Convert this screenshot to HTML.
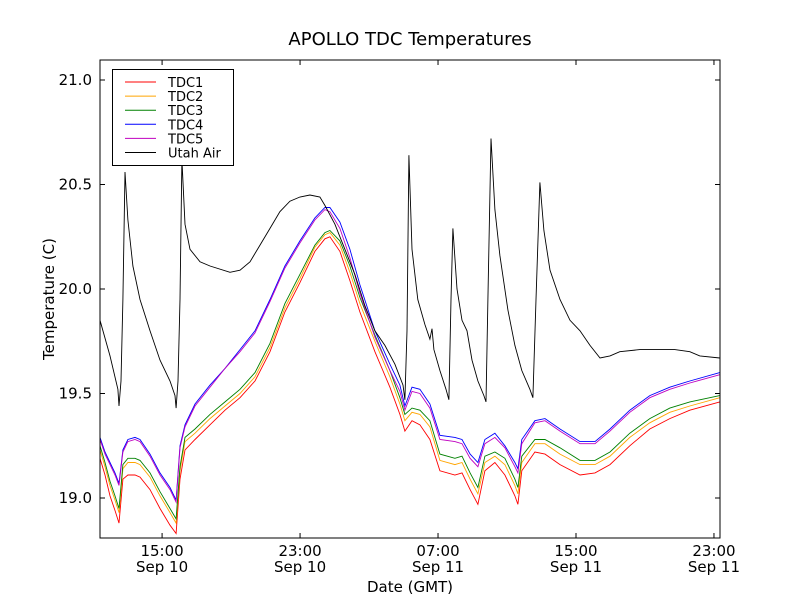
<!DOCTYPE html>
<html><head><meta charset="utf-8"><style>
body{margin:0;background:#fff}
svg text{font-family:"DejaVu Sans","Liberation Sans",sans-serif}
</style></head><body>
<svg id="chart" width="800" height="600" xmlns="http://www.w3.org/2000/svg">
<rect width="800" height="600" fill="#fff"/>
<text x="410" y="45" font-size="18" text-anchor="middle">APOLLO TDC Temperatures</text>
<g id="plot"></g>
<text x="410" y="592" font-size="15" text-anchor="middle">Date (GMT)</text>
<text transform="translate(54,299) rotate(-90)" font-size="15" text-anchor="middle">Temperature (C)</text>
</svg>
<script>
const tdcHours=[11.40,11.69,11.98,12.27,12.50,12.73,13.02,13.43,13.72,14.30,14.88,15.46,15.81,16.04,16.33,16.91,17.78,18.65,19.52,20.39,21.26,22.12,22.99,23.86,24.44,24.73,25.31,25.89,26.47,27.34,28.21,28.79,29.08,29.49,29.95,30.53,31.11,31.98,32.39,32.86,33.31,33.72,34.30,34.88,35.46,35.63,35.86,36.62,37.20,38.07,39.23,40.10,40.97,42.12,43.28,44.44,45.60,47.34];
const tdc1=[19.19,19.11,19.01,18.94,18.88,19.09,19.11,19.11,19.10,19.04,18.95,18.87,18.83,19.09,19.23,19.28,19.35,19.42,19.48,19.56,19.70,19.89,20.03,20.18,20.24,20.25,20.18,20.04,19.89,19.70,19.53,19.40,19.32,19.37,19.35,19.28,19.13,19.11,19.12,19.04,18.97,19.13,19.17,19.11,19.01,18.97,19.13,19.22,19.21,19.16,19.11,19.12,19.16,19.25,19.33,19.38,19.42,19.46];
const tdc2=[19.23,19.15,19.06,18.99,18.93,19.14,19.17,19.17,19.16,19.10,19.01,18.93,18.88,19.13,19.27,19.31,19.38,19.44,19.50,19.58,19.72,19.91,20.05,20.20,20.26,20.27,20.21,20.08,19.93,19.75,19.58,19.45,19.37,19.41,19.40,19.34,19.18,19.16,19.17,19.09,19.02,19.17,19.20,19.16,19.06,19.02,19.17,19.26,19.26,19.21,19.16,19.16,19.20,19.29,19.36,19.41,19.44,19.48];
const tdc3=[19.25,19.17,19.08,19.01,18.95,19.16,19.19,19.19,19.18,19.12,19.03,18.95,18.90,19.15,19.29,19.33,19.40,19.46,19.52,19.60,19.74,19.93,20.07,20.21,20.27,20.28,20.23,20.11,19.96,19.78,19.61,19.48,19.40,19.43,19.42,19.37,19.21,19.19,19.20,19.12,19.05,19.20,19.22,19.19,19.09,19.05,19.20,19.28,19.28,19.24,19.18,19.18,19.22,19.31,19.38,19.43,19.46,19.49];
const tdc4=[19.29,19.22,19.17,19.12,19.07,19.23,19.28,19.29,19.28,19.21,19.12,19.05,18.99,19.25,19.35,19.45,19.54,19.62,19.71,19.80,19.95,20.11,20.23,20.34,20.39,20.39,20.32,20.19,20.02,19.80,19.64,19.54,19.44,19.53,19.52,19.45,19.30,19.29,19.28,19.21,19.17,19.28,19.31,19.25,19.17,19.14,19.28,19.37,19.38,19.33,19.27,19.27,19.33,19.42,19.49,19.53,19.56,19.60];
const tdc5=[19.28,19.21,19.16,19.11,19.06,19.22,19.27,19.28,19.27,19.20,19.11,19.04,18.98,19.24,19.34,19.44,19.53,19.62,19.70,19.79,19.94,20.10,20.22,20.33,20.38,20.37,20.29,20.15,19.98,19.77,19.61,19.51,19.42,19.51,19.50,19.43,19.28,19.27,19.26,19.19,19.15,19.26,19.29,19.24,19.15,19.12,19.26,19.36,19.37,19.32,19.26,19.26,19.32,19.41,19.48,19.52,19.55,19.59];
const airHours=[11.40,11.98,12.44,12.50,12.62,12.73,12.85,13.02,13.31,13.72,14.30,14.88,15.46,15.75,15.81,15.92,16.04,16.15,16.33,16.62,17.20,17.78,18.94,19.52,20.10,20.68,21.26,21.83,22.41,22.99,23.57,24.15,24.44,25.02,25.60,26.18,26.76,27.34,27.92,28.50,28.97,29.08,29.20,29.31,29.49,29.83,30.24,30.53,30.65,30.76,31.11,31.46,31.63,31.75,31.86,32.10,32.39,32.68,32.97,33.31,33.66,33.78,33.89,34.07,34.30,34.59,35.05,35.46,35.86,36.33,36.50,36.68,36.91,37.14,37.49,38.07,38.65,39.23,39.81,40.39,40.97,41.54,42.70,43.86,44.73,45.60,46.18,47.34];
const airTemp=[19.85,19.68,19.52,19.44,19.56,19.95,20.56,20.33,20.11,19.95,19.80,19.66,19.56,19.49,19.43,19.56,19.95,20.62,20.31,20.19,20.13,20.11,20.08,20.09,20.13,20.21,20.29,20.37,20.42,20.44,20.45,20.44,20.40,20.31,20.19,20.07,19.92,19.80,19.73,19.64,19.54,19.47,19.80,20.64,20.19,19.95,19.83,19.76,19.81,19.71,19.61,19.52,19.47,19.95,20.29,20.00,19.85,19.80,19.66,19.56,19.49,19.46,19.95,20.72,20.38,20.16,19.90,19.73,19.61,19.52,19.48,19.95,20.51,20.28,20.09,19.95,19.85,19.80,19.73,19.67,19.68,19.70,19.71,19.71,19.71,19.70,19.68,19.67];
const seriesNames=["TDC1","TDC2","TDC3","TDC4","TDC5","Utah Air"];
const yTicks=[19.0,19.5,20.0,20.5,21.0];
const xTicks=[15,23,31,39,47];
const xTickTime=["15:00","23:00","07:00","15:00","23:00"];
const xTickDate=["Sep 10","Sep 10","Sep 11","Sep 11","Sep 11"];

const L=100,R=720,T=60,B=538, X0=11.4, X1=47.35;
const sx=h=>L+(h-X0)/(X1-X0)*(R-L);
const sy=v=>80+(21-v)*209;
const NS="http://www.w3.org/2000/svg";
const plot=document.getElementById('plot');
function mk(tag,attrs,parent){const e=document.createElementNS(NS,tag);for(const k in attrs)e.setAttribute(k,attrs[k]);(parent||plot).appendChild(e);return e;}
const clip=mk('clipPath',{id:'cp'});mk('rect',{x:L,y:T,width:R-L,height:B-T},clip);
const colors=["#ff0000","#ffa500","#008000","#0000ff","#bf00bf","#000000"];
const datas=[[tdcHours,tdc1],[tdcHours,tdc2],[tdcHours,tdc3],[tdcHours,tdc4],[tdcHours,tdc5],[airHours,airTemp]];
const lineNames=["line-tdc1","line-tdc2","line-tdc3","line-tdc4","line-tdc5","line-utah-air"];
datas.forEach((d,i)=>{
  const pts=d[0].map((h,j)=>sx(h).toFixed(1)+','+sy(d[1][j]).toFixed(1)).join(' ');
  const p=mk('polyline',{points:pts,fill:'none',stroke:colors[i],'stroke-width':0.9,'clip-path':'url(#cp)'});
  
  
});
const frame=mk('rect',{x:L,y:T,width:R-L,height:B-T,fill:'none',stroke:'#000','stroke-width':1});


yTicks.forEach(v=>{
  const y=sy(v);
  mk('line',{x1:L,x2:L+5,y1:y,y2:y,stroke:'#000'});
  mk('line',{x1:R-5,x2:R,y1:y,y2:y,stroke:'#000'});
  const t=mk('text',{x:L-8,y:y+5,'font-size':15,'text-anchor':'end'});
  t.textContent=v.toFixed(1);
  
  
});
xTicks.forEach((h,i)=>{
  const x=sx(h);
  mk('line',{x1:x,x2:x,y1:B,y2:B-5,stroke:'#000'});
  mk('line',{x1:x,x2:x,y1:T,y2:T+5,stroke:'#000'});
  const t=mk('text',{x:x,y:556,'font-size':15,'text-anchor':'middle'});
  t.textContent=xTickTime[i];
  
  
  const t2=mk('text',{x:x,y:572,'font-size':15,'text-anchor':'middle'});
  t2.textContent=xTickDate[i];
  
  
});
const lg=mk('g',{});


mk('rect',{x:112.5,y:69.5,width:121,height:96,fill:'#fff',stroke:'#000'},lg);
seriesNames.forEach((n,i)=>{
  const y=82+i*14.1;
  const g=mk('g',{},lg);
  
  
  mk('line',{x1:125,x2:156,y1:y,y2:y,stroke:colors[i],'stroke-width':1},g);
  const t=mk('text',{x:168,y:y+5,'font-size':13},g);
  t.textContent=n;
});
</script>
</body></html>
